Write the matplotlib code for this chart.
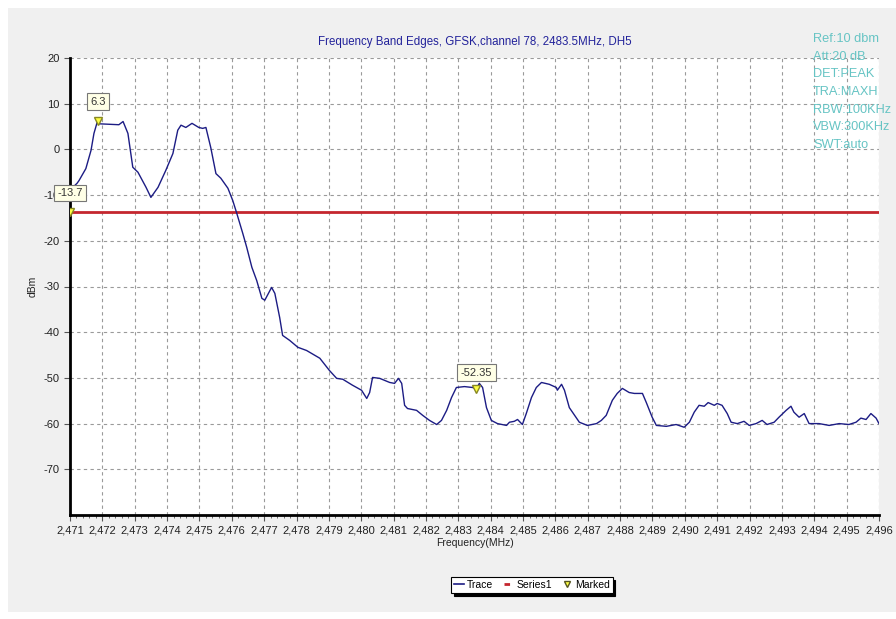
import numpy as np
import matplotlib
matplotlib.use('Agg')
import matplotlib.pyplot as plt
from matplotlib.patches import Rectangle
from matplotlib.lines import Line2D
from matplotlib.ticker import FixedLocator, FuncFormatter, AutoMinorLocator

plt.rcParams['font.family'] = ['Liberation Sans', 'DejaVu Sans']
plt.rcParams['axes.unicode_minus'] = False

# trace (MHz, dBm)
freq_mhz = [2.47100, 2.47106, 2.47122, 2.47128, 2.47149, 2.47165, 2.47174, 2.47183, 2.47186, 2.47190,
            2.47220, 2.47251, 2.47264, 2.47279, 2.47294, 2.47310, 2.47335, 2.47350, 2.47372, 2.47396,
            2.47418, 2.47433, 2.47443, 2.47458, 2.47477, 2.47498, 2.47510, 2.47520, 2.47535, 2.47551,
            2.47566, 2.47588, 2.47603, 2.47615, 2.47634, 2.47646, 2.47662, 2.47677, 2.47693, 2.47702,
            2.47723, 2.47733, 2.47748, 2.47757, 2.47779, 2.47804, 2.47831, 2.47872, 2.47902, 2.47924,
            2.47943, 2.47973, 2.48001, 2.48017, 2.48026, 2.48035, 2.48057, 2.48088, 2.48103, 2.48115,
            2.48125, 2.48134, 2.48143, 2.48171, 2.48190, 2.48211, 2.48233, 2.48248, 2.48264, 2.48279,
            2.48294, 2.48319, 2.48344, 2.48356, 2.48365, 2.48375, 2.48387, 2.48402, 2.48421, 2.48449,
            2.48458, 2.48473, 2.48483, 2.48498, 2.48510, 2.48526, 2.48541, 2.48557, 2.48581, 2.48603,
            2.48606, 2.48619, 2.48628, 2.48643, 2.48674, 2.48699, 2.48727, 2.48742, 2.48757, 2.48776,
            2.48791, 2.48807, 2.48828, 2.48844, 2.48869, 2.48881, 2.48899, 2.48912, 2.48943, 2.48973,
            2.48998, 2.49014, 2.49029, 2.49044, 2.49060, 2.49072, 2.49091, 2.49100, 2.49115, 2.49131,
            2.49143, 2.49162, 2.49183, 2.49199, 2.49220, 2.49239, 2.49254, 2.49276, 2.49291, 2.49313,
            2.49328, 2.49337, 2.49353, 2.49369, 2.49384, 2.49415, 2.49446, 2.49477, 2.49507, 2.49529,
            2.49544, 2.49560, 2.49575, 2.49591, 2.49600]
level_dbm = [-8.8, -8.5, -7.4, -6.8, -4.2, -0.2, 3.5, 5.7, 6.3, 5.6,
             5.5, 5.4, 6.1, 3.5, -3.9, -5.0, -8.3, -10.5, -8.3, -4.6,
             -0.9, 4.2, 5.3, 4.8, 5.7, 4.8, 4.6, 4.8, 0.4, -5.3,
             -6.3, -8.5, -11.2, -13.9, -18.4, -21.4, -25.8, -28.7, -32.6, -33.0,
             -30.2, -31.5, -36.8, -40.7, -41.8, -43.3, -44.0, -45.7, -48.4, -50.1,
             -50.3, -51.6, -52.7, -54.5, -53.2, -49.9, -50.1, -51.0, -51.2, -50.1,
             -51.2, -56.0, -56.7, -57.1, -58.2, -59.3, -60.2, -59.3, -57.1, -54.3,
             -52.1, -51.9, -52.1, -52.35, -51.2, -52.1, -56.5, -59.3, -60.0, -60.4,
             -59.7, -59.5, -59.1, -60.2, -57.8, -54.3, -52.1, -51.0, -51.4, -52.1,
             -52.7, -51.4, -52.7, -56.5, -59.7, -60.4, -60.0, -59.3, -58.2, -54.9,
             -53.4, -52.3, -53.2, -53.4, -53.4, -55.4, -58.6, -60.4, -60.6, -60.2,
             -60.8, -59.7, -57.5, -56.0, -56.2, -55.4, -56.0, -55.6, -56.0, -57.8,
             -59.7, -60.0, -59.5, -60.4, -60.0, -59.3, -60.2, -59.7, -58.6, -57.1,
             -56.2, -57.5, -58.6, -57.8, -60.0, -60.0, -60.4, -60.0, -60.2, -59.7,
             -58.8, -59.1, -57.8, -58.8, -60.0]

limit_dbm = -13.7
marker_freq = [2.47186, 2.48356, 2.47100]
marker_level = [6.3, -52.35, -13.7]
marker_text = ['6.3', '-52.35', '-13.7']

x_ticks = [round(2.471 + 0.001 * i, 3) for i in range(26)]
y_ticks = [20, 10, 0, -10, -20, -30, -40, -50, -60, -70]

settings = ['Ref:10 dbm', 'Att:20 dB', 'DET:PEAK', 'TRA:MAXH',
            'RBW:100KHz', 'VBW:300KHz', 'SWT:auto']

W, H = 896, 619
fig = plt.figure(figsize=(W / 100.0, H / 100.0), dpi=100, facecolor='white')
fig.patches.append(Rectangle((8.0 / W, 7.0 / H), 1 - 8.0 / W, 1 - 15.0 / H,
                             transform=fig.transFigure, facecolor='#f0f0f0',
                             edgecolor='none', zorder=-10))

ax = fig.add_axes([70.0 / W, 1 - 515.0 / H, 809.0 / W, 457.0 / H])
ax.set_facecolor('white')

ax.plot(freq_mhz, level_dbm, color='#1c1c84', linewidth=1.0, zorder=4)
ax.axhline(limit_dbm, color='#c4262e', linewidth=2.0, zorder=3)

ax.set_xlim(2.471, 2.496)
ax.set_ylim(-80, 20)
ax.xaxis.set_major_locator(FixedLocator(x_ticks))
ax.xaxis.set_major_formatter(FuncFormatter(lambda v, p: ('%.3f' % v).replace('.', ',')))
ax.xaxis.set_minor_locator(AutoMinorLocator(5))
ax.yaxis.set_major_locator(FixedLocator(y_ticks))

ax.grid(True, which='major', color='#9a9a9a', linestyle=(0, (3, 3)), linewidth=0.8)
for side in ['top', 'right']:
    ax.spines[side].set_visible(False)
for side in ['left', 'bottom']:
    ax.spines[side].set_linewidth(2.0)
    ax.spines[side].set_color('black')
ax.tick_params(axis='both', which='major', labelsize=8, length=4, color='#555555', labelcolor='#222222')
ax.tick_params(axis='x', which='minor', length=2, color='#555555')

ax.set_xlabel('Frequency(MHz)', fontsize=7.5, color='#222222', labelpad=2)
ax.set_ylabel('dBm', fontsize=7.5, color='#222222', labelpad=4)

ax.set_title('Frequency Band Edges, GFSK,channel 78, 2483.5MHz, DH5',
             fontsize=8.3, color='#22229a', pad=9)

# markers with value boxes
ax.plot(marker_freq, marker_level, linestyle='none', marker='v', markersize=6,
        markerfacecolor='#ffff44', markeredgecolor='#888822', zorder=6, clip_on=True)
box_offset = [19, 16, 19]
for fx, ly, txt, dy in zip(marker_freq, marker_level, marker_text, box_offset):
    ax.annotate(txt, (fx, ly), xytext=(0, dy), textcoords='offset pixels',
                ha='center', va='center', fontsize=8, color='#333333', zorder=7,
                annotation_clip=False,
                bbox=dict(boxstyle='square,pad=0.3', facecolor='#ffffe6', edgecolor='#777777', linewidth=0.8))

for i, s in enumerate(settings):
    fig.text(813.0 / W, 1 - (39.0 + i * 17.7) / H, s, fontsize=9.2, color='#66c4c4',
             ha='left', va='center')

handles = [Line2D([], [], color='#1c1c84', linewidth=1.2),
           Line2D([], [], color='#c4262e', linewidth=2.0, linestyle=(0, (2, 2))),
           Line2D([], [], linestyle='none', marker='v', markersize=5,
                  markerfacecolor='#ffff44', markeredgecolor='#555522')]
leg = fig.legend(handles, ['Trace', 'Series1', 'Marked'], loc='center',
                 bbox_to_anchor=(532.0 / W, 1 - 585.0 / H), ncol=3, fontsize=7.5,
                 frameon=True, fancybox=False, shadow={'color': 'black', 'alpha': 1.0},
                 handlelength=0.9, handletextpad=0.3, columnspacing=1.0, borderpad=0.3)
leg.get_frame().set_edgecolor('black')
leg.get_frame().set_linewidth(0.8)

fig.savefig('out.png', dpi=100, facecolor=fig.get_facecolor())
